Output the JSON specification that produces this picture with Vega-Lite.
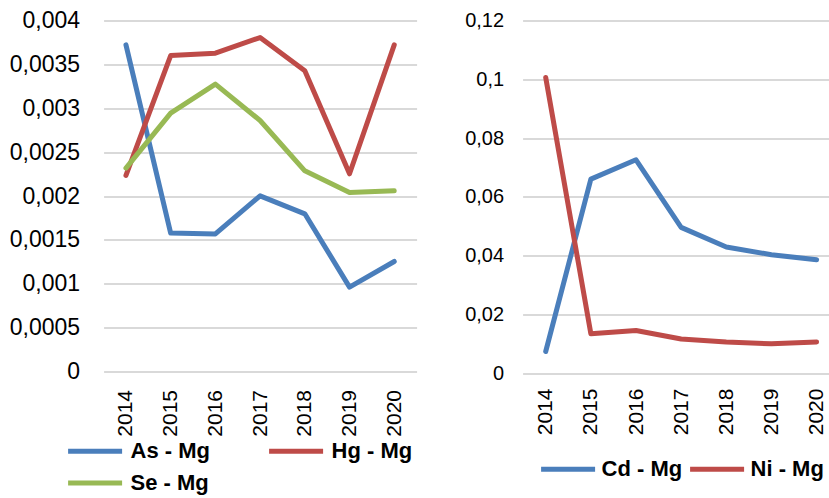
{
  "$schema": "https://vega.github.io/schema/vega-lite/v6.json",
  "padding": {"left": 8.6, "top": 9.5, "right": 0, "bottom": 0},
  "background": "white",
  "spacing": 48,
  "datasets": {
    "left": [
      {"year": "2014", "series": "As - Mg", "value": 0.003723},
      {"year": "2015", "series": "As - Mg", "value": 0.001577},
      {"year": "2016", "series": "As - Mg", "value": 0.001568},
      {"year": "2017", "series": "As - Mg", "value": 0.002002},
      {"year": "2018", "series": "As - Mg", "value": 0.001797},
      {"year": "2019", "series": "As - Mg", "value": 0.000962},
      {"year": "2020", "series": "As - Mg", "value": 0.001254},
      {"year": "2014", "series": "Hg - Mg", "value": 0.002234},
      {"year": "2015", "series": "Hg - Mg", "value": 0.003601},
      {"year": "2016", "series": "Hg - Mg", "value": 0.003628},
      {"year": "2017", "series": "Hg - Mg", "value": 0.003806},
      {"year": "2018", "series": "Hg - Mg", "value": 0.003427},
      {"year": "2019", "series": "Hg - Mg", "value": 0.002253},
      {"year": "2020", "series": "Hg - Mg", "value": 0.003723},
      {"year": "2014", "series": "Se - Mg", "value": 0.002318},
      {"year": "2015", "series": "Se - Mg", "value": 0.002945},
      {"year": "2016", "series": "Se - Mg", "value": 0.003275},
      {"year": "2017", "series": "Se - Mg", "value": 0.00286},
      {"year": "2018", "series": "Se - Mg", "value": 0.002287},
      {"year": "2019", "series": "Se - Mg", "value": 0.00204},
      {"year": "2020", "series": "Se - Mg", "value": 0.002059}
    ],
    "right": [
      {"year": "2014", "series": "Cd - Mg", "value": 0.00735},
      {"year": "2015", "series": "Cd - Mg", "value": 0.066},
      {"year": "2016", "series": "Cd - Mg", "value": 0.0726},
      {"year": "2017", "series": "Cd - Mg", "value": 0.0496},
      {"year": "2018", "series": "Cd - Mg", "value": 0.0429},
      {"year": "2019", "series": "Cd - Mg", "value": 0.0403},
      {"year": "2020", "series": "Cd - Mg", "value": 0.0386},
      {"year": "2014", "series": "Ni - Mg", "value": 0.1006},
      {"year": "2015", "series": "Ni - Mg", "value": 0.0134},
      {"year": "2016", "series": "Ni - Mg", "value": 0.0145},
      {"year": "2017", "series": "Ni - Mg", "value": 0.0116},
      {"year": "2018", "series": "Ni - Mg", "value": 0.0106},
      {"year": "2019", "series": "Ni - Mg", "value": 0.00998},
      {"year": "2020", "series": "Ni - Mg", "value": 0.0106}
    ]
  },
  "config": {
    "view": {"stroke": null},
    "font": "Liberation Sans, Arial, sans-serif",
    "axis": {
      "domain": false,
      "ticks": false,
      "title": null,
      "labelColor": "#000000",
      "labelFont": "Liberation Sans, Arial, sans-serif",
      "gridColor": "#D9D9D9",
      "gridWidth": 2
    },
    "legend": {
      "labelFont": "Liberation Sans, Arial, sans-serif",
      "labelFontWeight": "bold",
      "labelColor": "#000000",
      "symbolType": "stroke",
      "symbolStrokeWidth": 5,
      "symbolSize": 2916,
      "labelOffset": 4,
      "title": null,
      "labelLimit": 0
    }
  },
  "resolve": {"scale": {"color": "independent", "y": "independent", "x": "independent"}, "legend": {"color": "independent"}},
  "hconcat": [
    {
      "width": 313,
      "height": 351,
      "data": {"name": "left"},
      "mark": {"type": "line", "strokeWidth": 5, "strokeCap": "round", "strokeJoin": "round"},
      "encoding": {
        "x": {
          "field": "year", "type": "ordinal",
          "scale": {"type": "point", "padding": 0.5},
          "axis": {"labelAngle": 270, "labelFontSize": 21, "labelPadding": 18, "grid": false}
        },
        "y": {
          "field": "value", "type": "quantitative",
          "scale": {"domain": [0, 0.004]},
          "axis": {
            "values": [0, 0.0005, 0.001, 0.0015, 0.002, 0.0025, 0.003, 0.0035, 0.004],
            "labelExpr": "replace(format(datum.value, '.4~f'), '.', ',')",
            "labelFontSize": 23, "labelPadding": 24, "grid": true
          }
        },
        "color": {
          "field": "series", "type": "nominal",
          "scale": {"domain": ["As - Mg", "Hg - Mg", "Se - Mg"], "range": ["#4A7EBB", "#BE4B48", "#98B954"]},
          "legend": {
            "orient": "none", "legendX": -21, "legendY": 418,
            "direction": "horizontal",
            "symbolType": "M-2.7,0L2.7,0",
            "symbolSize": 400,
            "labelOffset": 23,
            "columns": 2, "columnPadding": 48, "rowPadding": 8,
            "labelFontSize": 22
          }
        }
      }
    },
    {
      "width": 307,
      "height": 352.6,
      "data": {"name": "right"},
      "mark": {"type": "line", "strokeWidth": 5, "strokeCap": "round", "strokeJoin": "round"},
      "encoding": {
        "x": {
          "field": "year", "type": "ordinal",
          "scale": {"type": "point", "padding": 0.4, "align": 0.64},
          "axis": {"labelAngle": 270, "labelFontSize": 21, "labelPadding": 15, "grid": false}
        },
        "y": {
          "field": "value", "type": "quantitative",
          "scale": {"domain": [0, 0.12]},
          "axis": {
            "values": [0, 0.02, 0.04, 0.06, 0.08, 0.1, 0.12],
            "labelExpr": "replace(format(datum.value, '.2~f'), '.', ',')",
            "labelFontSize": 20, "labelPadding": 19, "grid": true
          }
        },
        "color": {
          "field": "series", "type": "nominal",
          "scale": {"domain": ["Cd - Mg", "Ni - Mg"], "range": ["#4A7EBB", "#BE4B48"]},
          "legend": {
            "orient": "none", "legendX": 16, "legendY": 419,
            "direction": "horizontal",
            "columns": 2, "columnPadding": -3,
            "labelFontSize": 22
          }
        }
      }
    }
  ]
}
